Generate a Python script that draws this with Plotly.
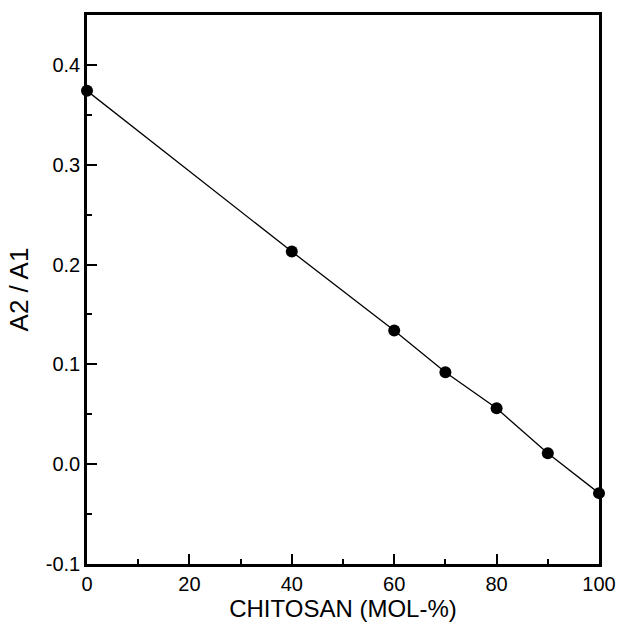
import plotly.graph_objects as go

chitosan = [0, 40, 60, 70, 80, 90, 100]
ratio = [0.374, 0.213, 0.134, 0.092, 0.056, 0.011, -0.029]

x_ticks = [0, 20, 40, 60, 80, 100]
y_ticks = [-0.1, 0.0, 0.1, 0.2, 0.3, 0.4]
y_labels = ["-0.1", "0.0", "0.1", "0.2", "0.3", "0.4"]

fig = go.Figure()
fig.add_trace(go.Scatter(
    x=chitosan, y=ratio, mode="lines+markers",
    line=dict(color="black", width=1.3),
    marker=dict(color="black", size=12),
    cliponaxis=False, showlegend=False,
))

font_family = "Liberation Sans, Arial, sans-serif"
fig.update_layout(
    width=617, height=630,
    margin=dict(l=87, r=18, t=15, b=66),
    paper_bgcolor="white", plot_bgcolor="white",
    font=dict(family=font_family, color="black"),
)
fig.update_xaxes(
    range=[0, 100], tickvals=x_ticks, ticktext=[str(v) for v in x_ticks],
    ticks="inside", ticklen=10, tickwidth=2, tickcolor="black",
    minor=dict(dtick=10, ticks="inside", ticklen=5, tickwidth=1.5, tickcolor="black"),
    showline=True, linecolor="black", linewidth=2.5, mirror=True,
    showgrid=False, zeroline=False, automargin=False, ticklabeloverflow="allow",
    tickfont=dict(size=20), title=dict(text="CHITOSAN (MOL-%)", font=dict(size=24), standoff=6),
)
fig.update_yaxes(
    range=[-0.1, 0.45], tickvals=y_ticks, ticktext=y_labels,
    ticks="inside", ticklen=10, tickwidth=2, tickcolor="black",
    minor=dict(dtick=0.05, tick0=0, ticks="inside", ticklen=5, tickwidth=1.5, tickcolor="black"),
    showline=True, linecolor="black", linewidth=2.5, mirror=True,
    showgrid=False, zeroline=False, automargin=False,
    tickfont=dict(size=20), title=dict(text="A2 / A1", font=dict(size=26), standoff=10),
)

fig.write_html("out.html")
